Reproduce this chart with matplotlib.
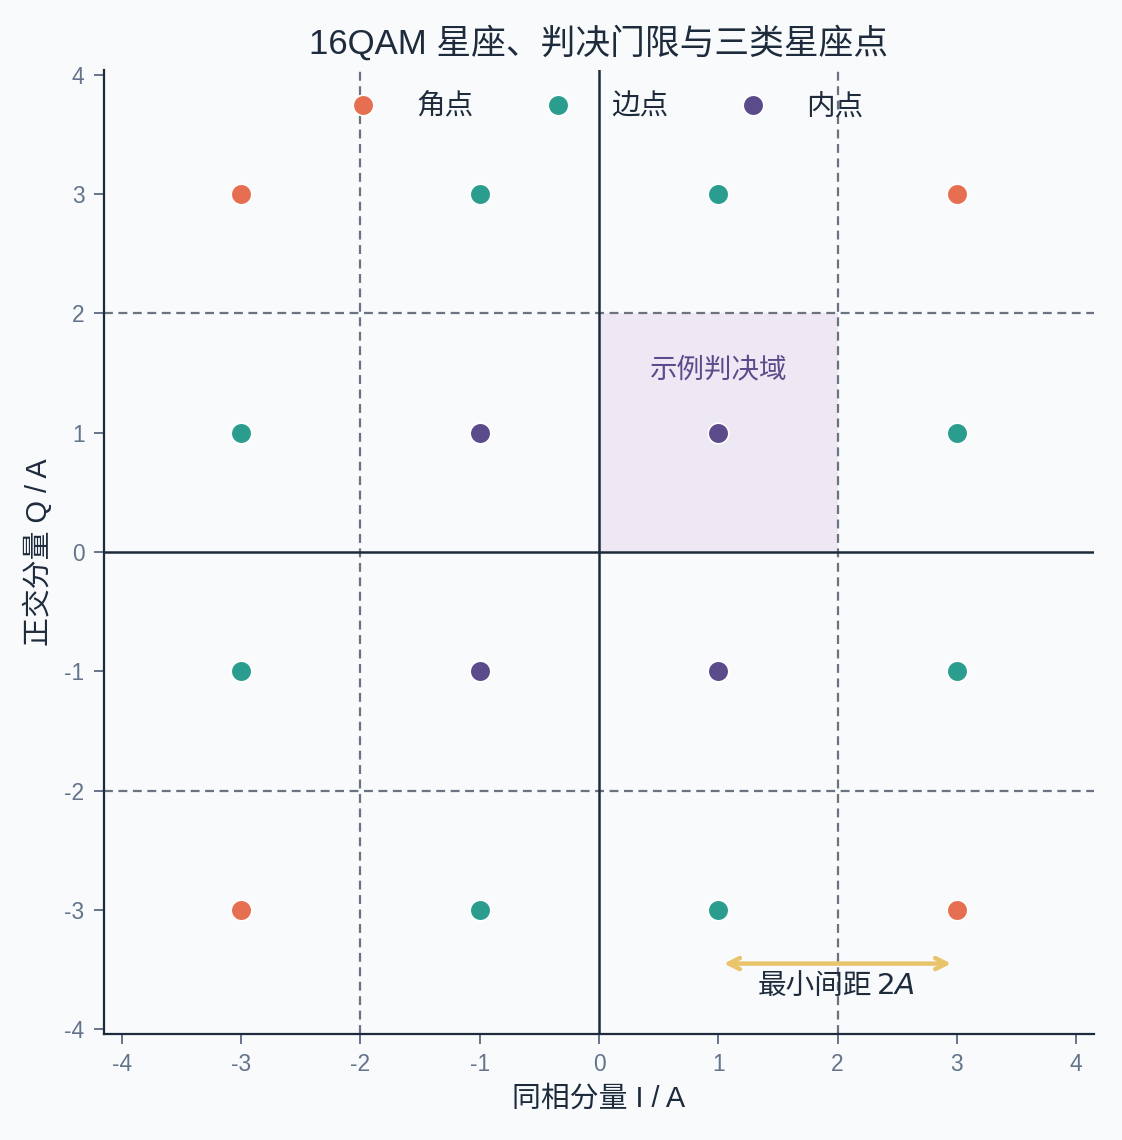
import matplotlib
matplotlib.use("Agg")
import matplotlib.pyplot as plt
from matplotlib.lines import Line2D

plt.rcParams['font.family'] = ['Liberation Sans', 'Noto Sans CJK SC', 'DejaVu Sans']
plt.rcParams['axes.unicode_minus'] = False

# 16QAM constellation, split into three kinds of point
corner_i = [-3, 3, -3, 3]
corner_q = [3, 3, -3, -3]
edge_i = [-1, 1, -3, 3, -3, 3, -1, 1]
edge_q = [3, 3, 1, 1, -1, -1, -3, -3]
inner_i = [-1, 1, -1, 1]
inner_q = [1, 1, -1, -1]
thresholds = [-2, 2]
ticks = [-4, -3, -2, -1, 0, 1, 2, 3, 4]
legend_labels = ['角点', '边点', '内点']

c_corner = '#e76f51'
c_edge = '#2a9d8f'
c_inner = '#5b4b8b'
c_dark = '#1e2b3c'
c_grey = '#6b7280'
c_tick = '#64748b'
bg = '#f8fafc'

fig = plt.figure(figsize=(5.61, 5.7), dpi=200, facecolor=bg)
ax = fig.add_axes([0.0927, 0.093, 0.8823, 0.8456])
ax.set_facecolor(bg)

# example decision region
ax.fill_between([0, 2], 0, 2, color='#ece7f4', alpha=0.9, lw=0, zorder=0)
ax.text(1, 1.52, '示例判决域', color=c_inner, fontsize=9.9, ha='center', va='center')

for t in thresholds:
    ax.axvline(t, color=c_grey, lw=0.8, ls=(0, (4, 2.5)), zorder=1)
    ax.axhline(t, color=c_grey, lw=0.8, ls=(0, (4, 2.5)), zorder=1)
ax.axvline(0, color=c_dark, lw=0.9, zorder=1)
ax.axhline(0, color=c_dark, lw=0.9, zorder=1)

ms = 55
ax.scatter(corner_i, corner_q, s=ms, color=c_corner, edgecolor='white', linewidth=0.6, zorder=3)
ax.scatter(edge_i, edge_q, s=ms, color=c_edge, edgecolor='white', linewidth=0.6, zorder=3)
ax.scatter(inner_i, inner_q, s=ms, color=c_inner, edgecolor='white', linewidth=0.6, zorder=3)

# minimum spacing arrow
ax.annotate('', xy=(3, -3.45), xytext=(1, -3.45),
            arrowprops=dict(arrowstyle='<->', color='#e9c46a', lw=1.6, shrinkA=2, shrinkB=2))
ax.text(2.29, -3.64, '最小间距', color=c_dark, fontsize=10.3, ha='right', va='center')
ax.text(2.32, -3.64, '$2A$', color=c_dark, fontsize=10.6, ha='left', va='center')

ax.set_xlim(-4.15, 4.15)
ax.set_ylim(-4.04, 4.04)
ax.set_xticks(ticks)
ax.set_yticks(ticks)
ax.tick_params(colors=c_tick, labelsize=8.2, length=3.5, width=0.7)
for s in ['top', 'right']:
    ax.spines[s].set_visible(False)
for s in ['left', 'bottom']:
    ax.spines[s].set_color(c_dark)
    ax.spines[s].set_linewidth(0.8)

ax.set_xlabel('同相分量 I / A', color=c_dark, fontsize=10.4, labelpad=3)
ax.set_ylabel('正交分量 Q / A', color=c_dark, fontsize=10.4, labelpad=4)
ax.set_title('16QAM 星座、判决门限与三类星座点', color=c_dark, fontsize=12.5, pad=6)

handles = [Line2D([], [], ls='', marker='o', markersize=7.4, markerfacecolor=c,
                  markeredgecolor='white', markeredgewidth=0.6)
           for c in [c_corner, c_edge, c_inner]]
leg = ax.legend(handles, legend_labels, loc='upper center', ncol=3, frameon=False,
                fontsize=10.3, handletextpad=0.85, columnspacing=1.96,
                bbox_to_anchor=(0.5, 1.003))
for t in leg.get_texts():
    t.set_color(c_dark)

fig.savefig('out.png', dpi=200, facecolor=bg)
